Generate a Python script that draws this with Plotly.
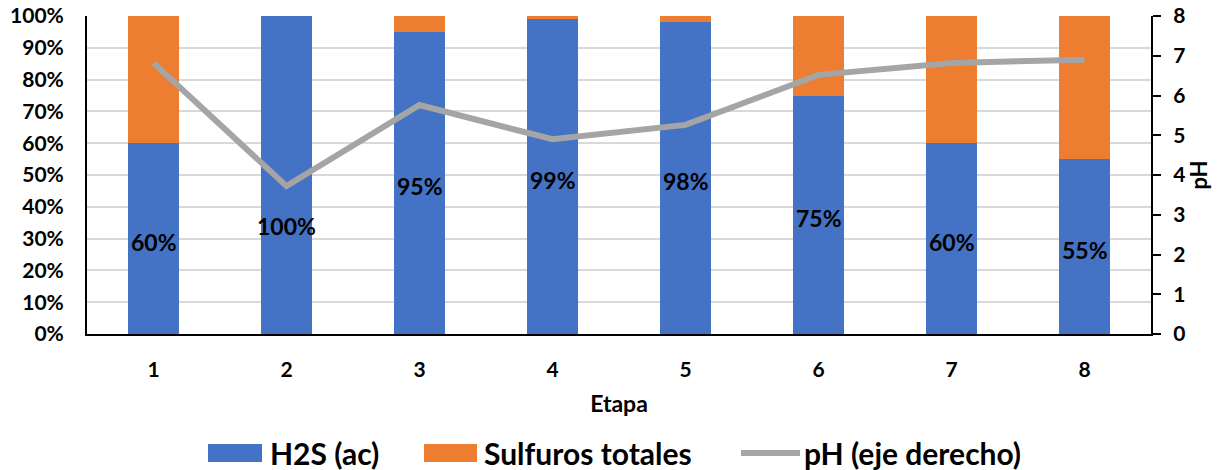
import plotly.graph_objects as go

# Stages and composition (%) of sulfide species, with the pH of each stage
etapas = [1, 2, 3, 4, 5, 6, 7, 8]
h2s_ac = [60, 100, 95, 99, 98, 75, 60, 55]
sulfuros_totales = [40, 0, 5, 1, 2, 25, 40, 45]
ph = [6.82, 3.72, 5.76, 4.90, 5.26, 6.52, 6.82, 6.90]

pct_ticks = list(range(0, 101, 10))
ph_ticks = list(range(0, 9))

BLUE = "#4472C4"
ORANGE = "#ED7D31"
GRAY = "#A5A5A5"
FONT = "Lato"

W, H = 1218, 470
M_L, M_R, M_T, M_B = 87, 67, 16, 136
PW, PH = W - M_L - M_R, H - M_T - M_B


def px_x(x):
    return (x - M_L) / PW


def px_y(y):
    return (H - M_B - y) / PH


fig = go.Figure()

fig.add_trace(go.Bar(
    x=etapas, y=h2s_ac, name="H2S (ac)", marker=dict(color=BLUE, line=dict(width=0)),
    width=0.39, showlegend=False, hoverinfo="x+y",
))
fig.add_trace(go.Bar(
    x=etapas, y=sulfuros_totales, name="Sulfuros totales",
    marker=dict(color=ORANGE, line=dict(width=0)),
    width=0.39, showlegend=False, hoverinfo="x+y",
))
fig.add_trace(go.Scatter(
    x=etapas, y=ph, name="pH (eje derecho)", yaxis="y2", mode="lines",
    line=dict(color=GRAY, width=6), showlegend=False,
))

# Data labels for the H2S share, centred in each bar (stage 2 moved below the pH line)
label_shift = [-3, -51, -3, -3, -3, -3, -3, -3]
for e, v, s in zip(etapas, h2s_ac, label_shift):
    fig.add_annotation(
        x=e, y=v / 2, xref="x", yref="y", text=f"{v:.0f}%", showarrow=False,
        yshift=s, font=dict(family=FONT, size=23, color="black", weight="bold"),
    )

# Legend drawn beneath the axis title
leg_y = 453
fig.add_shape(type="rect", xref="paper", yref="paper",
              x0=px_x(208), x1=px_x(262), y0=px_y(462), y1=px_y(444),
              fillcolor=BLUE, line=dict(width=0))
fig.add_shape(type="rect", xref="paper", yref="paper",
              x0=px_x(424), x1=px_x(477), y0=px_y(462), y1=px_y(444),
              fillcolor=ORANGE, line=dict(width=0))
fig.add_shape(type="line", xref="paper", yref="paper",
              x0=px_x(741), x1=px_x(800), y0=px_y(leg_y), y1=px_y(leg_y),
              line=dict(color=GRAY, width=6))
for x0, txt in [(268, "H2S (ac)"), (482, "Sulfuros totales"), (802, "pH (eje derecho)")]:
    fig.add_annotation(
        x=px_x(x0), y=px_y(leg_y), xref="paper", yref="paper", text=txt,
        showarrow=False, xanchor="left", yanchor="middle",
        font=dict(family=FONT, size=30, color="black", weight="bold"),
    )

fig.update_layout(
    width=W, height=H,
    margin=dict(l=M_L, r=M_R, t=M_T, b=M_B, autoexpand=False),
    barmode="stack",
    plot_bgcolor="white", paper_bgcolor="white",
    font=dict(family=FONT, size=21, color="black", weight="bold"),
    xaxis=dict(
        type="linear", range=[0.5, 8.5], tickmode="array", tickvals=etapas,
        ticks="", showgrid=False, zeroline=False, automargin=False,
        showline=True, linecolor="black", linewidth=2,
        ticklabelstandoff=16,
        tickfont=dict(family=FONT, size=21, weight="bold"),
        title=dict(text="Etapa", standoff=16,
                   font=dict(family=FONT, size=23, weight="bold")),
    ),
    yaxis=dict(
        range=[0, 100], tickmode="array", tickvals=pct_ticks,
        ticktext=[f"{t}%" for t in pct_ticks], automargin=False,
        showgrid=True, gridcolor="#D9D9D9", gridwidth=2,
        zeroline=False, showline=True, linecolor="black", linewidth=2,
        ticks="", ticklabelstandoff=17,
        tickfont=dict(family=FONT, size=21, weight="bold"),
    ),
    yaxis2=dict(
        overlaying="y", side="right", range=[0, 8], tickmode="array",
        tickvals=ph_ticks, showgrid=False, zeroline=False, automargin=False,
        showline=True, linecolor="black", linewidth=2,
        ticks="outside", ticklen=8, tickwidth=2, tickcolor="black",
        ticklabelstandoff=8,
        tickfont=dict(family=FONT, size=21, weight="bold"),
        title=dict(text="pH", standoff=2,
                   font=dict(family=FONT, size=22, weight="bold")),
    ),
)

fig.write_html("out.html")
